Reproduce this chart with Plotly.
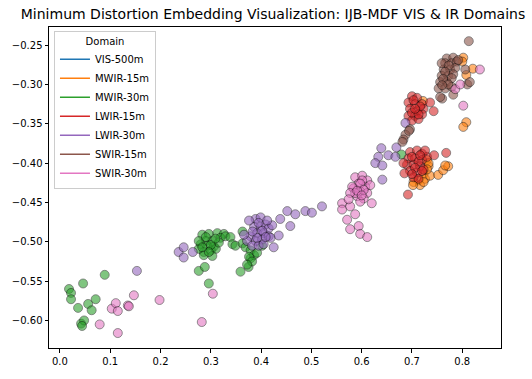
import plotly.graph_objects as go

domains = ["VIS-500m", "MWIR-15m", "MWIR-30m", "LWIR-15m", "LWIR-30m", "SWIR-15m", "SWIR-30m"]
colors = ["#1f77b4", "#ff7f0e", "#2ca02c", "#d62728", "#9467bd", "#8c564b", "#e377c2"]

vis_500_x = []
vis_500_y = []

mwir_15_x = [0.730, 0.733, 0.723, 0.713, 0.726, 0.703, 0.716, 0.736, 0.733, 0.752, 0.762, 0.772, 0.766,
             0.702, 0.802, 0.800, 0.821, 0.808, 0.808, 0.802, 0.722, 0.723, 0.730]
mwir_15_y = [-0.396, -0.404, -0.414, -0.422, -0.420, -0.424, -0.428, -0.416, -0.400, -0.415, -0.409, -0.404, -0.403,
             -0.428, -0.266, -0.271, -0.280, -0.288, -0.348, -0.354, -0.321, -0.424, -0.408]

mwir_30_x = [0.018, 0.022, 0.022, 0.046, 0.089, 0.036, 0.056, 0.063, 0.071, 0.042, 0.048, 0.044,
             0.276, 0.288, 0.296, 0.359, 0.375, 0.379,
             0.283, 0.296, 0.313, 0.326, 0.290, 0.303, 0.280, 0.293, 0.306, 0.319, 0.329, 0.286, 0.300,
             0.310, 0.286, 0.303, 0.276, 0.316, 0.339, 0.343, 0.349, 0.363, 0.363, 0.369, 0.379, 0.386,
             0.376, 0.392, 0.382, 0.372, 0.402, 0.276, 0.679,
             0.290, 0.300, 0.296, 0.309, 0.283]
mwir_30_y = [-0.560, -0.565, -0.573, -0.553, -0.542, -0.584, -0.579, -0.587, -0.573, -0.604, -0.600, -0.607,
             -0.537, -0.532, -0.553, -0.538, -0.532, -0.521,
             -0.491, -0.490, -0.489, -0.490, -0.499, -0.499, -0.503, -0.505, -0.506, -0.495, -0.493, -0.513, -0.511,
             -0.509, -0.517, -0.518, -0.509, -0.501, -0.494, -0.503, -0.505, -0.502, -0.487, -0.507, -0.511, -0.517,
             -0.519, -0.514, -0.525, -0.529, -0.505, -0.499, -0.389,
             -0.494, -0.504, -0.513, -0.496, -0.507]

lwir_15_x = [0.696, 0.710, 0.720, 0.693, 0.706, 0.720, 0.690, 0.703, 0.716, 0.696, 0.710, 0.723, 0.703, 0.713,
             0.730, 0.683, 0.726, 0.744, 0.768, 0.685, 0.692,
             0.700, 0.710, 0.693, 0.706, 0.720, 0.696, 0.710, 0.723, 0.693, 0.706, 0.720, 0.700, 0.713,
             0.736, 0.743,
             0.700, 0.713, 0.706, 0.720, 0.700, 0.716,
             0.703, 0.716, 0.700, 0.713, 0.706]
lwir_15_y = [-0.386, -0.384, -0.388, -0.394, -0.394, -0.396, -0.402, -0.402, -0.404, -0.410, -0.412, -0.408, -0.418, -0.420,
             -0.392, -0.400, -0.384, -0.390, -0.387, -0.413, -0.440,
             -0.315, -0.317, -0.323, -0.325, -0.325, -0.331, -0.334, -0.331, -0.340, -0.340, -0.338, -0.346, -0.344,
             -0.323, -0.334,
             -0.392, -0.398, -0.406, -0.410, -0.414, -0.390,
             -0.320, -0.328, -0.336, -0.338, -0.331]

lwir_30_x = [0.389, 0.399, 0.386, 0.399, 0.409, 0.392, 0.405, 0.415, 0.379, 0.372, 0.389, 0.402, 0.415, 0.382,
             0.395, 0.366, 0.422, 0.412, 0.376, 0.405, 0.419, 0.438, 0.458, 0.435, 0.425, 0.452, 0.468, 0.488,
             0.501, 0.521, 0.236, 0.246, 0.246, 0.264, 0.153,
             0.639, 0.633, 0.653, 0.627, 0.641, 0.669, 0.667, 0.641, 0.687,
             0.395, 0.402, 0.392, 0.383, 0.409]
lwir_30_y = [-0.471, -0.469, -0.481, -0.481, -0.478, -0.489, -0.489, -0.483, -0.493, -0.499, -0.499, -0.497, -0.493, -0.505,
             -0.505, -0.491, -0.479, -0.473, -0.473, -0.503, -0.495, -0.471, -0.480, -0.492, -0.507, -0.461, -0.465, -0.461,
             -0.463, -0.455, -0.513, -0.507, -0.520, -0.513, -0.537,
             -0.381, -0.392, -0.390, -0.400, -0.403, -0.380, -0.392, -0.421, -0.349,
             -0.476, -0.486, -0.495, -0.487, -0.494]

swir_15_x = [0.769, 0.782, 0.766, 0.779, 0.789, 0.763, 0.776, 0.786, 0.759, 0.772, 0.782, 0.756, 0.769, 0.753,
             0.766, 0.779, 0.792, 0.759, 0.813, 0.760, 0.782, 0.810, 0.815, 0.806, 0.756,
             0.696, 0.687, 0.683, 0.681, 0.694,
             0.773, 0.766, 0.779, 0.762, 0.772, 0.760]
swir_15_y = [-0.267, -0.266, -0.273, -0.273, -0.271, -0.281, -0.281, -0.279, -0.289, -0.289, -0.287, -0.297, -0.297, -0.305,
             -0.305, -0.303, -0.269, -0.273, -0.245, -0.318, -0.313, -0.300, -0.297, -0.281, -0.316,
             -0.357, -0.364, -0.370, -0.373, -0.359,
             -0.276, -0.284, -0.292, -0.293, -0.300, -0.301]

swir_30_x = [0.079, 0.115, 0.103, 0.111, 0.115, 0.135, 0.137, 0.147, 0.198, 0.282, 0.304,
             0.587, 0.601, 0.611, 0.594, 0.607, 0.584, 0.597, 0.611, 0.591, 0.604, 0.581, 0.617, 0.601, 0.587,
             0.597, 0.577, 0.561, 0.561, 0.577, 0.571, 0.587, 0.577, 0.594, 0.597, 0.611, 0.620, 0.574,
             0.786, 0.796, 0.802, 0.835,
             0.597, 0.604, 0.591, 0.600]
swir_30_y = [-0.605, -0.616, -0.585, -0.578, -0.588, -0.581, -0.582, -0.568, -0.574, -0.602, -0.566,
             -0.418, -0.416, -0.422, -0.426, -0.430, -0.432, -0.436, -0.438, -0.442, -0.445, -0.430, -0.428, -0.422, -0.438,
             -0.449, -0.438, -0.451, -0.459, -0.455, -0.472, -0.465, -0.484, -0.480, -0.490, -0.494, -0.451, -0.446,
             -0.306, -0.300, -0.327, -0.281,
             -0.426, -0.434, -0.435, -0.441]

series_x = [vis_500_x, mwir_15_x, mwir_30_x, lwir_15_x, lwir_30_x, swir_15_x, swir_30_x]
series_y = [vis_500_y, mwir_15_y, mwir_30_y, lwir_15_y, lwir_30_y, swir_15_y, swir_30_y]

x_ticks = [0.0, 0.1, 0.2, 0.3, 0.4, 0.5, 0.6, 0.7, 0.8]
y_ticks = [-0.60, -0.55, -0.50, -0.45, -0.40, -0.35, -0.30, -0.25]

fig = go.Figure()
for name, col, xs, ys in zip(domains, colors, series_x, series_y):
    fig.add_trace(go.Scatter(
        x=xs, y=ys, mode="markers", name=name, showlegend=False,
        marker=dict(size=9, color=col, opacity=0.6, line=dict(color="black", width=0.7)),
    ))
for name, col in zip(domains, colors):
    fig.add_trace(go.Scatter(
        x=[None], y=[None], mode="lines", name=name,
        line=dict(color=col, width=1.5),
    ))

font = "DejaVu Sans, Arial, sans-serif"
fig.update_layout(
    width=532, height=379,
    margin=dict(l=48, r=31, t=27, b=15),
    paper_bgcolor="white", plot_bgcolor="white",
    font=dict(family=font, size=10, color="black"),
    title=dict(
        text="Minimum Distortion Embedding Visualization: IJB-MDF VIS & IR Domains",
        x=273 / 532, xanchor="center", y=1 - 14 / 379, yanchor="middle",
        font=dict(size=14, family=font, color="black"),
    ),
    xaxis=dict(
        range=[-0.0218, 0.877], tickvals=x_ticks, tickformat=".1f",
        showline=True, mirror=True, linecolor="black", linewidth=1,
        ticks="outside", ticklen=3.5, tickcolor="black", showgrid=False, zeroline=False,
        tickfont=dict(size=10),
    ),
    yaxis=dict(
        range=[-0.635, -0.227], tickvals=y_ticks, tickformat=".2f",
        showline=True, mirror=True, linecolor="black", linewidth=1,
        ticks="outside", ticklen=3.5, tickcolor="black", showgrid=False, zeroline=False,
        tickfont=dict(size=10),
    ),
    legend=dict(
        x=0.011, y=0.988, xanchor="left", yanchor="top",
        bgcolor="rgba(255,255,255,0.8)", bordercolor="#cccccc", borderwidth=1,
        title=dict(text="Domain", side="top center", font=dict(size=10)),
        font=dict(size=10), tracegroupgap=0, itemwidth=30,
    ),
)

fig.write_html("out.html", config={"displayModeBar": False},
               post_script="document.body.style.margin='0px';")
